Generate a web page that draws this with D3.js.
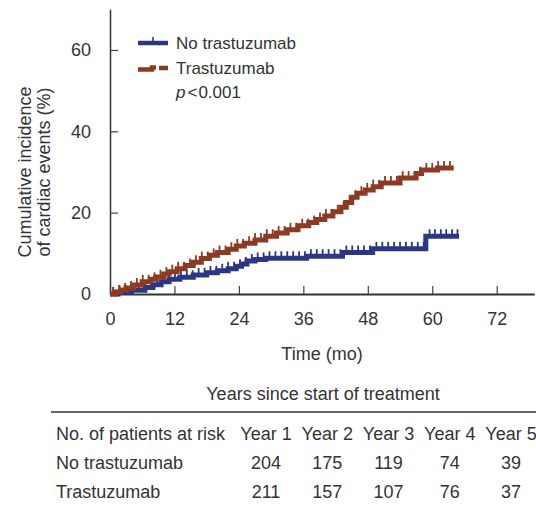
<!DOCTYPE html>
<html><head><meta charset="utf-8">
<script src="https://cdn.jsdelivr.net/npm/d3@7"></script>
<style>
body{margin:0;background:#fff;}
text{font-family:"Liberation Sans",Arial,sans-serif;fill:#333;}
</style></head>
<body>
<svg id="chart" width="536" height="506"></svg>
<script>
// ---- data ----
const seriesNames = ["No trastuzumab", "Trastuzumab"];
const noTrastuzumab = [[0,0],[1.5,0.4],[4,0.9],[6.5,1.6],[8,2.3],[9.5,3.0],[11,3.6],[13,4.1],[15.5,4.7],[18,5.2],[20,5.7],[22,6.2],[23.5,6.8],[24.5,7.4],[25.5,8.1],[27,8.5],[29,8.8],[36.6,9.3],[43.3,10.2],[48.9,11.1],[58.8,14.2]];
const noTrastuzumabEnd = 65;
const trastuzumab = [[0,0],[1,0.5],[2,1.0],[3,1.5],[4.5,2.2],[6,3.0],[7.5,3.6],[8.5,4.2],[10,4.9],[11,5.5],[12.5,6.2],[14,7.0],[15.5,7.8],[17,8.7],[18.5,9.5],[20,10.2],[22,11.0],[23.5,11.8],[25,12.5],[27,13.3],[29,14.2],[31,15.0],[33,15.8],[35,16.8],[37,17.6],[38.5,18.3],[40,19.2],[41.5,20.2],[43,21.3],[44,22.5],[45,23.8],[46,24.8],[47.5,25.6],[49,26.4],[50.5,27.3],[54,28.5],[57,29.6],[58,30.5],[61,31.0]];
const trastuzumabEnd = 64;
const censorNo = [0.6,1.8,3.0,4.2,5.4,6.6,7.7,8.8,9.9,11.0,12.1,13.2,14.3,15.4,16.5,17.6,18.7,19.8,20.9,22.0,23.1,24.2,25.3,26.4,27.5,28.6,29.7,30.8,31.9,33.0,34.1,35.2,36.3,37.4,38.5,39.6,40.7,41.8,42.9,44.0,45.1,46.2,47.3,48.4,49.6,50.7,51.8,52.9,54.0,55.1,56.2,57.3,58.4,59.5,60.5,61.6,62.6,63.7,64.7];
const censorTr = [0.6,1.7,2.8,3.9,5.0,6.1,7.2,8.3,9.4,10.5,11.6,12.7,13.8,14.9,16.0,17.1,18.2,19.3,20.4,21.5,22.6,23.7,24.8,25.9,27.0,28.1,29.2,30.3,31.4,32.5,33.6,34.7,35.8,36.9,38.0,39.1,40.2,41.3,42.4,43.5,44.6,45.7,46.8,47.9,49.0,50.1,51.2,52.3,53.4,54.5,55.6,56.7,57.8,58.9,60.0,61.1,62.2,63.3];
const xTicks = [0,12,24,36,48,60,72];
const yTicks = [0,20,40,60];
const tableCols = ["Year 1","Year 2","Year 3","Year 4","Year 5"];
const tableRowLabels = ["No trastuzumab","Trastuzumab"];
const atRiskNo = [204,175,119,74,39];
const atRiskTr = [211,157,107,76,37];
const colors = ["#2c3684","#8b3a24"];

// ---- chart ----
const svg = d3.select("#chart");
const x = d3.scaleLinear().domain([0,79]).range([110,534.3]);
const y = d3.scaleLinear().domain([0,70]).range([294,9.3]);

const xAxis = svg.append("g").attr("transform","translate(0,294)")
  .call(d3.axisBottom(x).tickValues(xTicks).tickSize(-8).tickSizeOuter(0).tickPadding(14));
xAxis.select(".domain").attr("stroke","#333").attr("stroke-width",2);
xAxis.selectAll(".tick line").attr("stroke","#444").attr("stroke-width",1.2);
xAxis.selectAll(".tick text").attr("font-size",18).attr("fill","#333").attr("font-family","Liberation Sans, Arial, sans-serif").attr("dy","0.71em").attr("y",18);

const yAxis = svg.append("g").attr("transform","translate(110,0)")
  .call(d3.axisLeft(y).tickValues(yTicks).tickSize(-8).tickSizeOuter(0).tickPadding(19));
yAxis.select(".domain").attr("stroke","#333").attr("stroke-width",1.5);
yAxis.selectAll(".tick line").attr("stroke","#444").attr("stroke-width",1.2);
yAxis.selectAll(".tick text").attr("font-size",18).attr("fill","#333").attr("font-family","Liberation Sans, Arial, sans-serif");

const line = d3.line().x(d=>x(d[0])).y(d=>y(d[1])).curve(d3.curveStepAfter);
function stepVal(data, t){
  const i = d3.bisector(d=>d[0]).right(data, t) - 1;
  return data[Math.max(0,i)][1];
}
function drawCurve(data, end, censor, color){
  const pts = data.concat([[end, data[data.length-1][1]]]);
  svg.append("path").datum(pts).attr("d", line)
    .attr("fill","none").attr("stroke",color).attr("stroke-width",5);
  svg.append("g").selectAll("line").data(censor).join("line")
    .attr("x1",d=>x(d)).attr("x2",d=>x(d))
    .attr("y1",d=>y(stepVal(data,d))-1)
    .attr("y2",d=>y(stepVal(data,d))-7)
    .attr("stroke",color).attr("stroke-width",1.8);
}
drawCurve(noTrastuzumab, noTrastuzumabEnd, censorNo, colors[0]);
drawCurve(trastuzumab, trastuzumabEnd, censorTr, colors[1]);

// legend
const lg = svg.append("g");
lg.append("line").attr("x1",138).attr("x2",168).attr("y1",43).attr("y2",43).attr("stroke",colors[0]).attr("stroke-width",4.5);
lg.append("line").attr("x1",153).attr("x2",153).attr("y1",42).attr("y2",37).attr("stroke",colors[0]).attr("stroke-width",1.6);
lg.append("text").attr("x",176).attr("y",49).attr("font-size",17).text(seriesNames[0]);
lg.append("path").attr("d","M138,69.5H152V67.5H156").attr("fill","none").attr("stroke",colors[1]).attr("stroke-width",4.5);
lg.append("line").attr("x1",159).attr("x2",168).attr("y1",68).attr("y2",68).attr("stroke",colors[1]).attr("stroke-width",4.5);
lg.append("text").attr("x",176).attr("y",74).attr("font-size",17).text(seriesNames[1]);
const pt = lg.append("text").attr("x",176).attr("y",98).attr("font-size",17);
pt.append("tspan").attr("font-style","italic").text("p");
pt.append("tspan").attr("dx",2).text("<");
pt.append("tspan").attr("dx",1).text("0.001");

svg.append("text").attr("x",322).attr("y",360).attr("text-anchor","middle").attr("font-size",18).text("Time (mo)");
const yt = svg.append("text").attr("transform","translate(0,172) rotate(-90)").attr("text-anchor","middle").attr("font-size",18);
yt.append("tspan").attr("x",0).attr("y",31).text("Cumulative incidence");
yt.append("tspan").attr("x",0).attr("y",50).text("of cardiac events (%)");

// table
svg.append("text").attr("x",323).attr("y",400).attr("text-anchor","middle").attr("font-size",18).text("Years since start of treatment");
svg.append("line").attr("x1",51).attr("x2",536).attr("y1",412).attr("y2",412).attr("stroke","#333").attr("stroke-width",1.5);
const colX = d3.scalePoint().domain(tableCols).range([266,511]);
svg.append("text").attr("x",56).attr("y",440).attr("font-size",18).text("No. of patients at risk");
svg.append("g").selectAll("text").data(tableCols).join("text")
  .attr("x",d=>colX(d)).attr("y",440).attr("text-anchor","middle").attr("font-size",18).text(d=>d);
[atRiskNo, atRiskTr].forEach((row,ri)=>{
  const yy = 469 + ri*29;
  svg.append("text").attr("x",56).attr("y",yy).attr("font-size",18).text(tableRowLabels[ri]);
  svg.append("g").selectAll("text").data(row).join("text")
    .attr("x",(d,i)=>colX(tableCols[i])).attr("y",yy).attr("text-anchor","middle").attr("font-size",18).text(d=>d);
});
</script>
</body></html>
